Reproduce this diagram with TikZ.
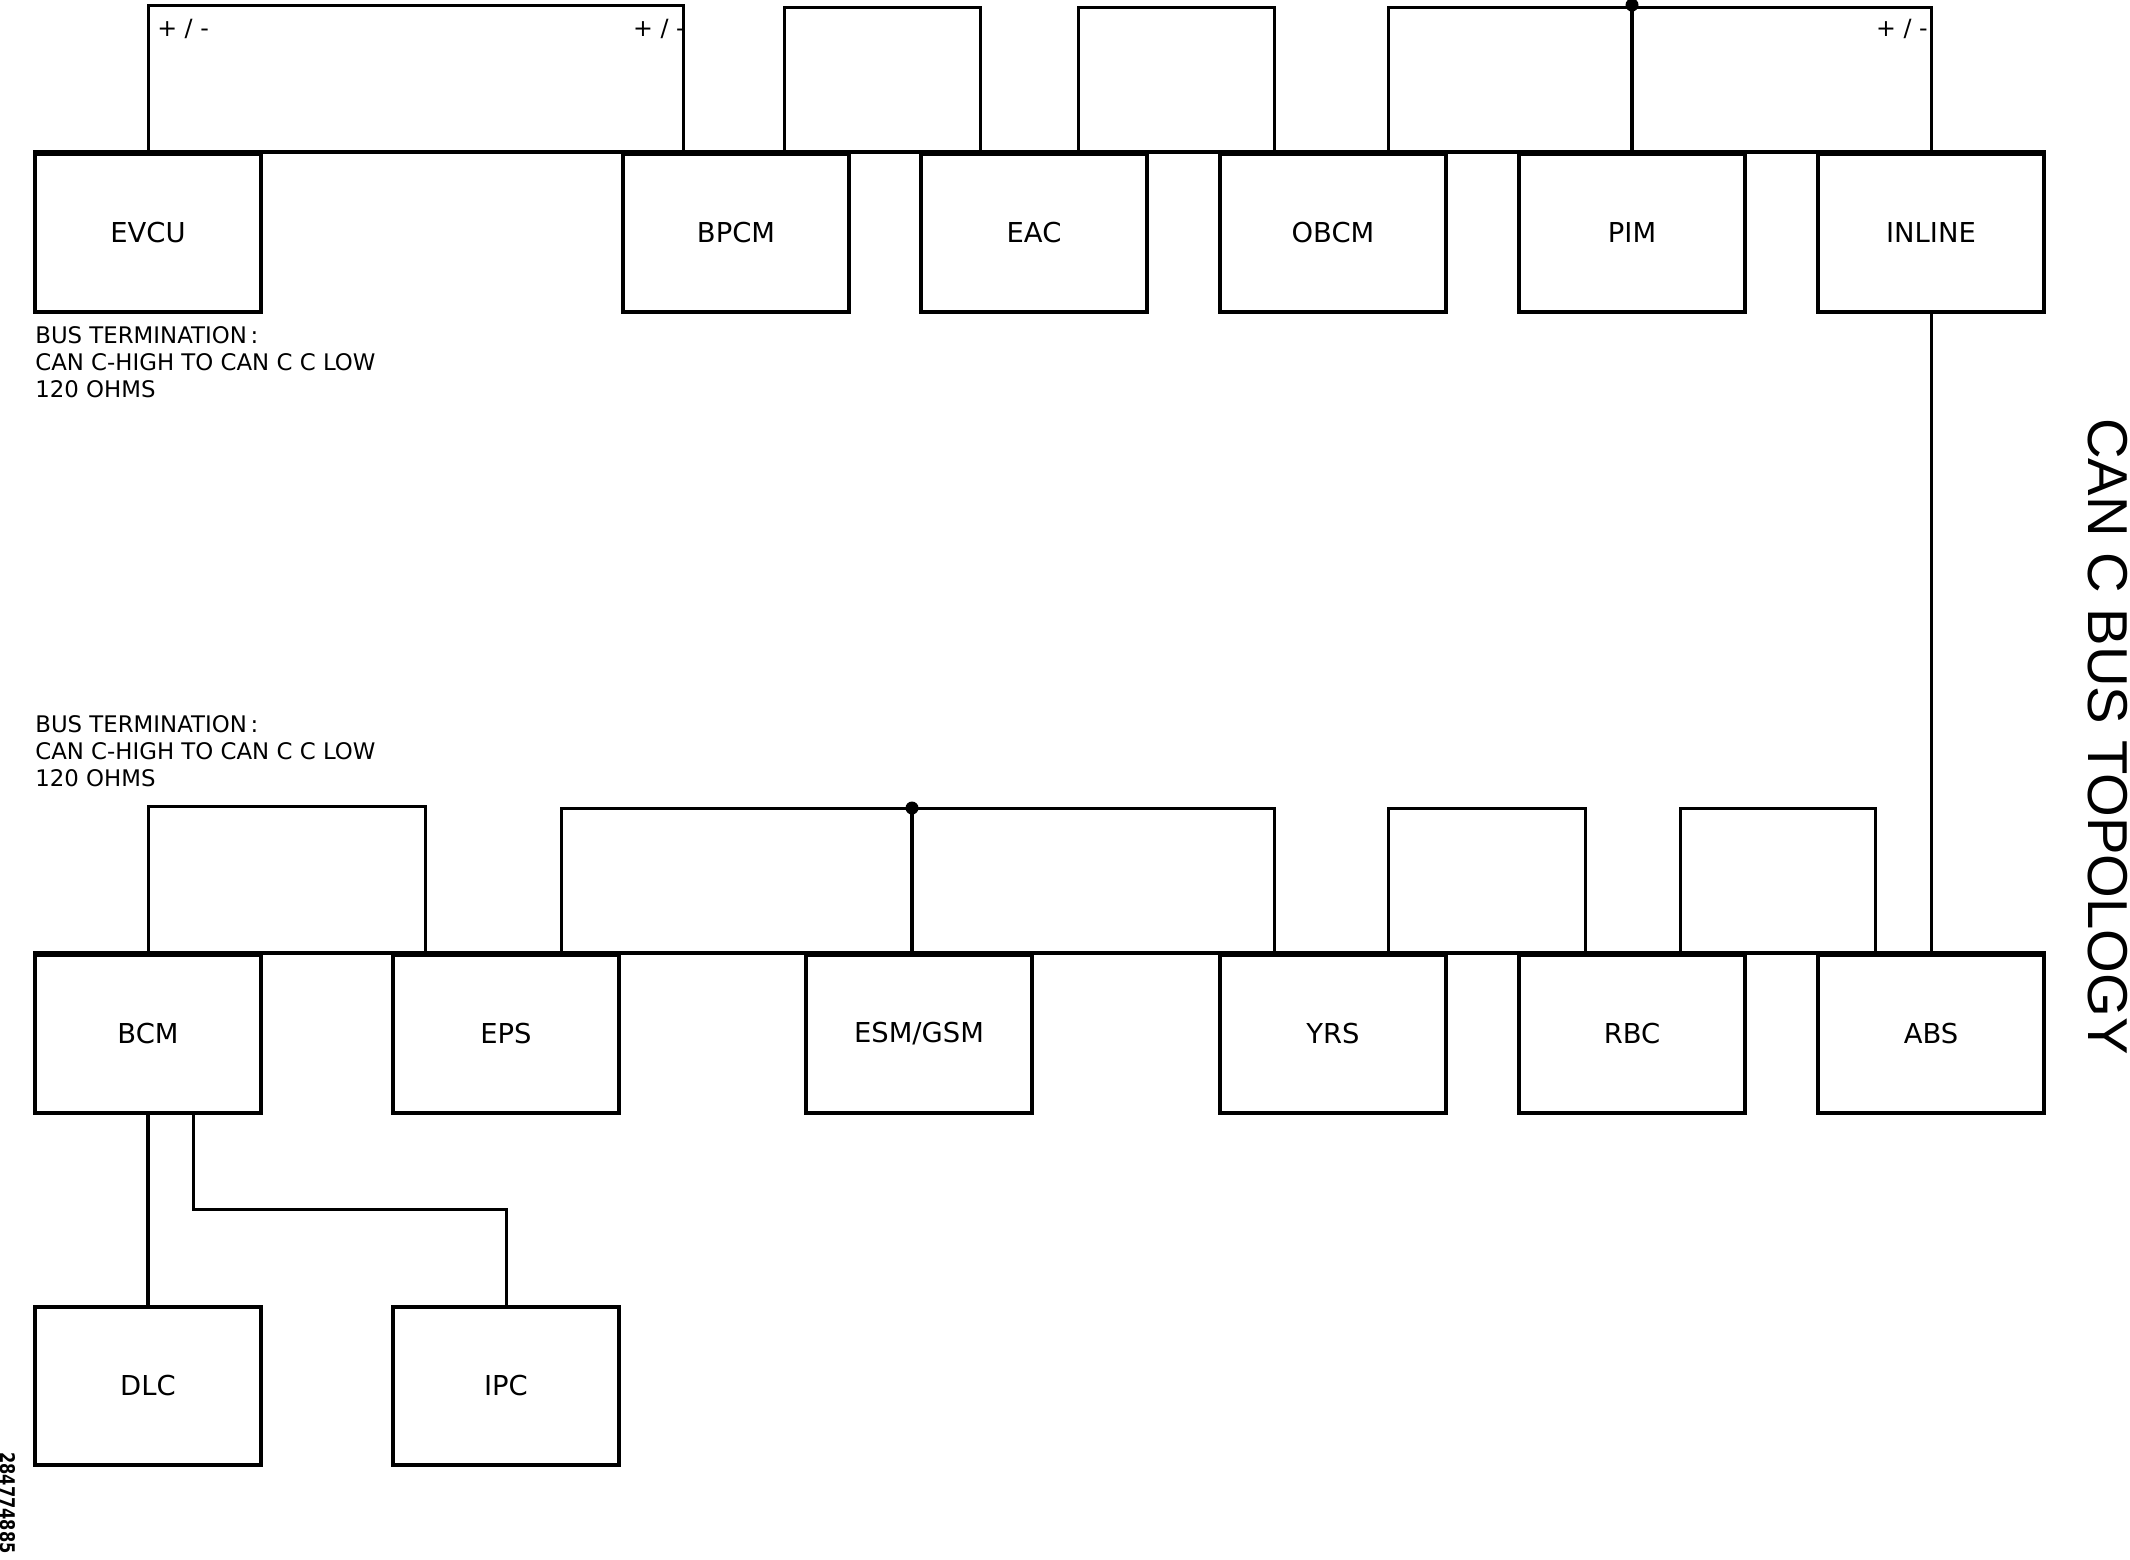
\documentclass[tikz,border=0pt]{standalone}
\usepackage{fontspec}
\setmainfont{DejaVu Sans}
\newfontfamily\titlefont{Liberation Sans}
\usetikzlibrary{calc}

\tikzset{
	ecu/.style={draw, line width=0.08cm, minimum width=4.52cm, minimum height=3.16cm, inner sep=0pt, font=\fontsize{15.6}{18}\selectfont},
	bus/.style={line width=0.08cm},
	wire/.style={line width=0.06cm},
	note/.style={align=left, inner sep=0pt, font=\fontsize{13}{15.4}\selectfont},
	pol/.style={inner sep=0pt, font=\fontsize{13.5}{16}\selectfont},
	joint/.style={fill, circle, inner sep=0pt, minimum size=0.26cm}
}

\begin{document}
\begin{tikzpicture}[x=0.02cm, y=-0.02cm]
		\useasboundingbox (0,0) rectangle (2130,1559);
		% upper row
		\node[ecu] (EVCU) at (148,233) {EVCU};
		\node[ecu] (BPCM) at (736,233) {BPCM};
		\node[ecu] (EAC) at (1034,233) {EAC};
		\node[ecu] (OBCM) at (1333,233) {OBCM};
		\node[ecu] (PIM) at (1632,233) {PIM};
		\node[ecu] (INLINE) at (1931,233) {INLINE};
		\draw[bus] (EVCU.north west) -- (INLINE.north east);
		\coordinate (u1) at (683,154);
		\coordinate (u2) at (784,154);
		\coordinate (u3) at (980,154);
		\coordinate (u4) at (1078,154);
		\coordinate (u5) at (1274,154);
		\coordinate (u6) at (1388,154);
		\draw[wire] (EVCU.north) -- ++(0,-147) -| (u1);
		\draw[wire] (u2) -- ++(0,-147) -| (u3);
		\draw[wire] (u4) -- ++(0,-147) -| (u5);
		\draw[wire] (u6) -- ++(0,-147) -| (INLINE.north);
		\draw[bus] (PIM.north) -- ++(0,-147) node[joint] (j1) {};
		\node[pol, anchor=base west] (p1) at (157,36) {+ / -};
		\node[pol, anchor=base east] (p2) at (685,36) {+ / -};
		\node[pol, anchor=base east] (p3) at (1928,36) {+ / -};
		\node[note, anchor=north west] (term1) at (35,326) {BUS TERMINATION\,:\\CAN C-HIGH TO CAN C C LOW\\120 OHMS};
		% lower row
		\node[ecu] (BCM) at (148,1034) {BCM};
		\node[ecu] (EPS) at (506,1034) {EPS};
		\node[ecu] (ESM) at (919,1034) {ESM/GSM};
		\node[ecu] (YRS) at (1333,1034) {YRS};
		\node[ecu] (RBC) at (1632,1034) {RBC};
		\node[ecu] (ABS) at (1931,1034) {ABS};
		\draw[bus] (BCM.north west) -- (ABS.north east);
		\coordinate (l1) at (425,955);
		\coordinate (l2) at (561,955);
		\coordinate (l3) at (1274,955);
		\coordinate (l4) at (912,955);
		\coordinate (l5) at (1388,955);
		\coordinate (l6) at (1585,955);
		\coordinate (l7) at (1680,955);
		\coordinate (l8) at (1875,955);
		\draw[wire] (BCM.north) -- ++(0,-147) -| (l1);
		\draw[wire] (l2) -- ++(0,-147) -| (l3);
		\draw[bus] (l4) -- ++(0,-147) node[joint] (j2) {};
		\draw[wire] (l5) -- ++(0,-147) -| (l6);
		\draw[wire] (l7) -- ++(0,-147) -| (l8);
		\draw[wire] (INLINE.south) -- (ABS.north);
		\node[note, anchor=north west] (term2) at (35,715) {BUS TERMINATION\,:\\CAN C-HIGH TO CAN C C LOW\\120 OHMS};
		% branch off BCM
		\node[ecu] (DLC) at (148,1386) {DLC};
		\node[ecu] (IPC) at (506,1386) {IPC};
		\coordinate (b1) at (193,1114);
		\draw[bus] (BCM.south) -- (DLC.north);
		\draw[wire] (b1) -- ++(0,95) -| (IPC.north);
		\node[rotate=-90, anchor=base west, inner sep=0pt, font=\titlefont\fontsize{32}{38}\selectfont] (title) at (2088,418) {CAN C BUS TOPOLOGY};
		\node[rotate=-90, anchor=base west, inner sep=0pt, font=\bfseries\fontsize{11.5}{13}\selectfont] (fig) at (1,1452) {\scalebox{0.8}[1]{284774885}};
	\end{tikzpicture}
\end{document}
